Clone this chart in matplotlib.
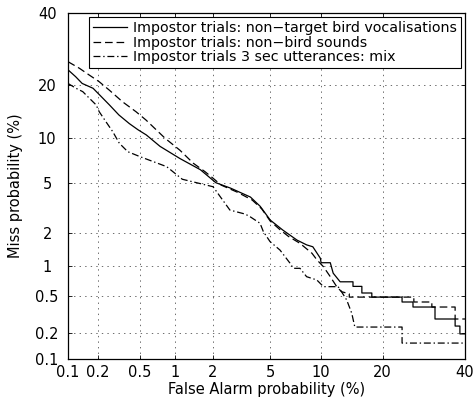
import math
import numpy as np
import matplotlib
matplotlib.use("Agg")
import matplotlib.pyplot as plt

plt.rcParams['font.family'] = ['DejaVu Sans']
plt.rcParams['lines.scale_dashes'] = False

# ---- data (percent) ----
ticks = [0.1, 0.2, 0.5, 1, 2, 5, 10, 20, 40]
tick_labels = ["0.1", "0.2", "0.5", "1", "2", "5", "10", "20", "40"]

labels = ["Impostor trials: non\u2212target bird vocalisations",
          "Impostor trials: non\u2212bird sounds",
          "Impostor trials 3 sec utterances: mix"]

bird_fa = [0.1, 0.12, 0.14, 0.18, 0.21, 0.26, 0.32, 0.40, 0.48, 0.57, 0.75, 1.1, 1.6,
           2.1, 2.7, 3.7, 4.3, 5.0, 6.0, 7.3, 8.3, 9.0, 9.9, 10.0, 11.2, 11.6, 12.6,
           14.6, 14.6, 16.1, 16.1, 17.9, 17.9, 24.1, 24.1, 26.6, 26.6, 32.0, 32.0,
           37.3, 37.3, 38.6, 38.6, 40.0]
bird_miss = [23.6, 21.9, 20.3, 19.2, 17.7, 15.7, 13.8, 12.3, 11.3, 10.5, 8.9, 7.4, 6.2,
             5.0, 4.55, 3.9, 3.3, 2.55, 2.1, 1.72, 1.56, 1.5, 1.18, 1.07, 1.07, 0.85, 0.70,
             0.70, 0.63, 0.63, 0.54, 0.54, 0.49, 0.49, 0.436, 0.436, 0.386, 0.386, 0.287,
             0.287, 0.24, 0.24, 0.196, 0.196]

nonbird_fa = [0.1, 0.131, 0.165, 0.207, 0.259, 0.347, 0.46, 0.566, 0.83, 1.1, 1.41, 1.74,
              2.0, 2.3, 3.0, 3.8, 4.4, 5.0, 5.8, 6.5, 7.6, 8.9, 9.5, 10.3, 11.2, 12.1,
              12.8, 14.0, 14.0, 26.8, 26.8, 31.2, 31.2, 37.3, 37.3, 40.0]
nonbird_miss = [25.7, 24.0, 22.3, 20.7, 18.8, 16.3, 14.4, 12.9, 10.0, 8.4, 6.87, 6.0,
                5.39, 4.8, 4.25, 3.7, 3.15, 2.5, 2.1, 1.85, 1.61, 1.31, 1.135, 0.98, 0.786,
                0.626, 0.557, 0.53, 0.49, 0.49, 0.436, 0.436, 0.386, 0.386, 0.287, 0.287]

mix_fa = [0.1, 0.121, 0.142, 0.159, 0.193, 0.207, 0.241, 0.28, 0.323, 0.387, 0.50, 0.854,
          1.15, 2.0, 2.66, 3.4, 3.68, 4.29, 4.51, 4.98, 5.76, 6.63, 6.94, 7.6, 8.3, 9.47,
          10.3, 12.3, 12.8, 13.6, 14.4, 14.9, 24.1, 24.1, 40.0]
mix_miss = [20.3, 19.2, 18.45, 17.4, 15.7, 14.4, 12.6, 11.0, 9.32, 8.22, 7.62, 6.51,
            5.3, 4.67, 3.08, 2.86, 2.72, 2.40, 2.04, 1.67, 1.40, 1.06, 0.947, 0.947, 0.786,
            0.73, 0.626, 0.626, 0.557, 0.457, 0.331, 0.234, 0.234, 0.154, 0.154]


# ---- normal deviate (probit) scale ----
def _ppf(p):
    p = np.asarray(p, dtype=float)
    p = np.clip(p, 1e-12, 1 - 1e-12)
    a = [-3.969683028665376e+01, 2.209460984245205e+02, -2.759285104469687e+02,
         1.383577518672690e+02, -3.066479806614716e+01, 2.506628277459239e+00]
    b = [-5.447609879822406e+01, 1.615858368580409e+02, -1.556989798598866e+02,
         6.680131188771972e+01, -1.328068155288572e+01]
    c = [-7.784894002430293e-03, -3.223964580411365e-01, -2.400758277161838e+00,
         -2.549732539343734e+00, 4.374664141464968e+00, 2.938163982698783e+00]
    d = [7.784695709041462e-03, 3.224671290700398e-01, 2.445134137142996e+00,
         3.754408661907416e+00]
    plow = 0.02425
    out = np.empty_like(p)
    lo = p < plow
    hi = p > 1 - plow
    mid = ~(lo | hi)
    q = np.sqrt(-2 * np.log(p[lo]))
    out[lo] = (((((c[0]*q+c[1])*q+c[2])*q+c[3])*q+c[4])*q+c[5]) / \
              ((((d[0]*q+d[1])*q+d[2])*q+d[3])*q+1)
    q = np.sqrt(-2 * np.log(1 - p[hi]))
    out[hi] = -(((((c[0]*q+c[1])*q+c[2])*q+c[3])*q+c[4])*q+c[5]) / \
               ((((d[0]*q+d[1])*q+d[2])*q+d[3])*q+1)
    q = p[mid] - 0.5
    r = q * q
    out[mid] = (((((a[0]*r+a[1])*r+a[2])*r+a[3])*r+a[4])*r+a[5])*q / \
               (((((b[0]*r+b[1])*r+b[2])*r+b[3])*r+b[4])*r+1)
    return out


_erf = np.vectorize(math.erf)


def fwd(x):
    return _ppf(np.asarray(x, dtype=float) / 100.0)


def inv(z):
    z = np.asarray(z, dtype=float)
    return 100.0 * 0.5 * (1.0 + _erf(z / math.sqrt(2.0)))


fig = plt.figure(figsize=(4.76, 4.0), dpi=100)
ax = fig.add_axes([68/476, 41/400, 397/476, 346/400])
ax.set_xscale('function', functions=(fwd, inv))
ax.set_yscale('function', functions=(fwd, inv))

lw = 0.9
ax.plot(bird_fa, bird_miss, color='black', lw=lw, linestyle='-', label=labels[0])
ax.plot(nonbird_fa, nonbird_miss, color='black', lw=lw, linestyle=(0, (5.5, 2.8)), label=labels[1])
ax.plot(mix_fa, mix_miss, color='black', lw=lw, linestyle=(0, (5.0, 2.0, 1.0, 2.0)), label=labels[2])

ax.set_xlim(0.1, 40)
ax.set_ylim(0.1, 40)
ax.set_xticks(ticks)
ax.set_xticklabels(tick_labels)
ax.set_yticks(ticks)
ax.set_yticklabels(tick_labels)
ax.minorticks_off()
ax.tick_params(direction='in', top=True, right=True, length=3, width=0.6,
               labelsize=10.5, colors='black')
ax.tick_params(axis='x', pad=4)
ax.tick_params(axis='y', pad=15)
for t in ax.get_yticklabels():
    t.set_horizontalalignment('center')
ax.grid(True, color='#555555', linestyle=(0, (1, 3)), linewidth=0.6)
for s in ax.spines.values():
    s.set_linewidth(0.9)

ax.set_xlabel("False Alarm probability (%)", fontsize=10.5, labelpad=2)
ax.set_ylabel("Miss probability (%)", fontsize=10.5, labelpad=9)

leg = ax.legend(loc='upper right', fontsize=10.3, frameon=True, fancybox=False,
                edgecolor='black', framealpha=1, handlelength=2.4, handletextpad=0.4,
                borderpad=0.25, labelspacing=0.05, borderaxespad=0.3)
leg.get_frame().set_linewidth(0.8)

fig.savefig("out.png", dpi=100)
